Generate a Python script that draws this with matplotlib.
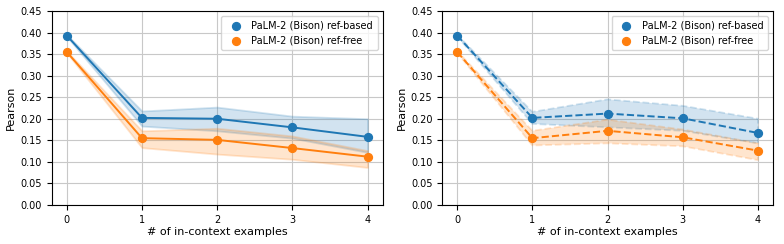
import matplotlib
matplotlib.use("Agg")
import matplotlib.pyplot as plt
import numpy as np

x = [0, 1, 2, 3, 4]
labels = ["PaLM-2 (Bison) ref-based", "PaLM-2 (Bison) ref-free"]

# left panel
l_based = [0.393, 0.202, 0.200, 0.180, 0.158]
l_based_lo = [0.391, 0.183, 0.172, 0.155, 0.122]
l_based_hi = [0.395, 0.218, 0.227, 0.206, 0.200]
l_free = [0.355, 0.155, 0.151, 0.132, 0.112]
l_free_lo = [0.353, 0.133, 0.118, 0.106, 0.087]
l_free_hi = [0.357, 0.172, 0.178, 0.160, 0.126]

# right panel
r_based = [0.393, 0.202, 0.212, 0.201, 0.167]
r_based_lo = [0.391, 0.188, 0.180, 0.172, 0.143]
r_based_hi = [0.395, 0.216, 0.245, 0.230, 0.200]
r_free = [0.355, 0.155, 0.172, 0.157, 0.126]
r_free_lo = [0.353, 0.138, 0.143, 0.136, 0.104]
r_free_hi = [0.357, 0.172, 0.198, 0.175, 0.143]

C_BLUE = "#1f77b4"
C_ORANGE = "#ff7f0e"
FS = 7

fig, axes = plt.subplots(1, 2, figsize=(7.84, 2.44), dpi=100)
plt.subplots_adjust(left=0.066, right=0.986, top=0.955, bottom=0.16, wspace=0.18)

panels = [
    (axes[0], "-", [(l_based, l_based_lo, l_based_hi, C_BLUE), (l_free, l_free_lo, l_free_hi, C_ORANGE)]),
    (axes[1], "--", [(r_based, r_based_lo, r_based_hi, C_BLUE), (r_free, r_free_lo, r_free_hi, C_ORANGE)]),
]

for ax, ls, series in panels:
    for (y, lo, hi, c), lab in zip(series, labels):
        ax.fill_between(x, lo, hi, color=c, alpha=0.2, linestyle=ls, linewidth=1.3, edgecolor=c)
        ax.plot(x, y, color=c, linestyle=ls, linewidth=1.4, zorder=3)
        ax.scatter(x, y, color=c, s=32, zorder=4, label=lab)
    ax.set_ylim(0, 0.45)
    ax.set_yticks(np.arange(0, 0.451, 0.05))
    ax.set_yticklabels([f"{v:.2f}" for v in np.arange(0, 0.451, 0.05)])
    ax.set_xticks(x)
    ax.set_xlim(-0.2, 4.2)
    ax.grid(True, color="#c8c8c8", linewidth=0.8)
    ax.set_axisbelow(True)
    ax.tick_params(labelsize=FS)
    ax.set_xlabel("# of in-context examples", fontsize=8, labelpad=2)
    ax.set_ylabel("Pearson", fontsize=8, labelpad=3)
    ax.legend(loc="upper right", fontsize=FS, handletextpad=0.6, borderpad=0.5)

fig.savefig("out.png", dpi=100)
